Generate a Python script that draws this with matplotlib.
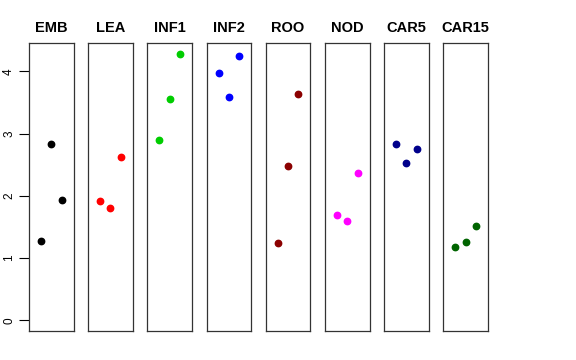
import matplotlib
matplotlib.use("Agg")
import matplotlib.pyplot as plt

groups = ["EMB", "LEA", "INF1", "INF2", "ROO", "NOD", "CAR5", "CAR15"]
colors = ["black", "red", "#00CD00", "blue", "#8B0000", "magenta", "#00008B", "#006400"]
reps = [1, 2, 3]
emb = [1.28, 2.84, 1.94]
lea = [1.91, 1.81, 2.62]
inf1 = [2.90, 3.56, 4.28]
inf2 = [3.97, 3.59, 4.25]
roo = [1.24, 2.48, 3.63]
nod = [1.69, 1.60, 2.36]
car5 = [2.84, 2.52, 2.76]
car15 = [1.18, 1.26, 1.52]
values = [emb, lea, inf1, inf2, roo, nod, car5, car15]

plt.rcParams["font.family"] = ["Liberation Sans", "DejaVu Sans"]

W, H = 576, 360
fig = plt.figure(figsize=(W / 100, H / 100), dpi=100)

ymax = max(max(v) for v in values)
pad = 0.04 * ymax
left0, pw, step = 29, 44.5, 59.2
top, bottom = 43.3, 331

for i, (g, c, v) in enumerate(zip(groups, colors, values)):
    x0 = left0 + i * step
    ax = fig.add_axes([x0 / W, 1 - bottom / H, pw / W, (bottom - top) / H])
    ax.plot(reps, v, "o", color=c, ms=4.6, mec=c)
    ax.set_xlim(-0.16, 4.16)
    ax.set_ylim(-pad, ymax + pad)
    ax.set_xticks([])
    ax.set_title(g, fontsize=10.5, fontweight="bold", pad=8)
    for s in ax.spines.values():
        s.set_linewidth(0.9)
        s.set_color("#333333")
    if i == 0:
        ax.set_yticks([0, 1, 2, 3, 4])
        ax.tick_params(axis="y", length=7, width=0.8, labelsize=8.5, pad=3)
        for lab in ax.get_yticklabels():
            lab.set_rotation(90)
            lab.set_va("center")
    else:
        ax.set_yticks([])

fig.savefig("out.png", dpi=100)
